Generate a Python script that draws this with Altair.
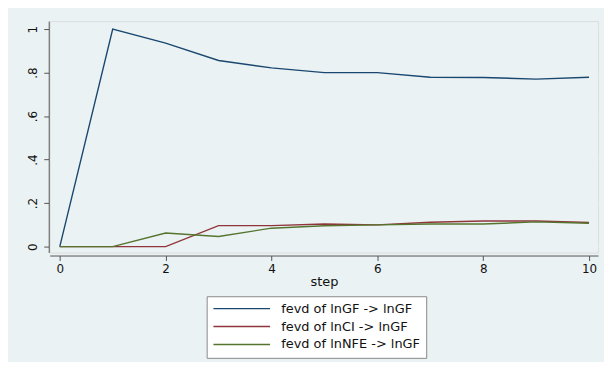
import altair as alt
import pandas as pd

steps = [0, 1, 2, 3, 4, 5, 6, 7, 8, 9, 10]
gf_gf = [0, 1.0, 0.936, 0.856, 0.822, 0.800, 0.800, 0.779, 0.778, 0.770, 0.779]
ci_gf = [0, 0, 0, 0.097, 0.097, 0.104, 0.100, 0.112, 0.118, 0.118, 0.111]
nfe_gf = [0, 0, 0.063, 0.047, 0.085, 0.096, 0.100, 0.104, 0.104, 0.114, 0.108]

series_names = ["fevd of lnGF -> lnGF", "fevd of lnCI -> lnGF", "fevd of lnNFE -> lnGF"]
series_colors = ["#1a476f", "#90353b", "#55752f"]

rows = []
for name, vals in zip(series_names, [gf_gf, ci_gf, nfe_gf]):
    for s, v in zip(steps, vals):
        rows.append({"step": s, "value": v, "series": name})
df = pd.DataFrame(rows)

bg = "#eaf2f3"
font = "DejaVu Sans"

chart = alt.Chart(df).mark_line(strokeWidth=1.4).encode(
    x=alt.X("step:Q",
            scale=alt.Scale(domain=[-0.19, 10.17], nice=False, zero=False),
            axis=alt.Axis(values=[0, 2, 4, 6, 8, 10], title="step", grid=False,
                          offset=3, tickSize=5, labelFontSize=12, titleFontSize=13,
                          titleFontWeight="normal", labelPadding=3, titlePadding=1,
                          labelFont=font, titleFont=font,
                          domainColor="#555555", tickColor="#555555",
                          labelColor="#111111", titleColor="#111111")),
    y=alt.Y("value:Q",
            scale=alt.Scale(domain=[-0.027, 1.037], nice=False, zero=False),
            axis=alt.Axis(values=[0, 0.2, 0.4, 0.6, 0.8, 1.0], title=None, grid=True,
                          gridColor=bg, gridWidth=1.2, offset=1, tickSize=5,
                          labelFontSize=12, labelAngle=270, labelAlign="center",
                          labelBaseline="bottom", labelPadding=4, labelFont=font,
                          labelExpr="datum.value == 0 ? '0' : datum.value == 1 ? '1' : replace(format(datum.value, '.1f'), '0.', '.')",
                          domainColor="#555555", tickColor="#555555",
                          labelColor="#111111")),
    color=alt.Color("series:N",
                    scale=alt.Scale(domain=series_names, range=series_colors),
                    legend=alt.Legend(title=None, orient="none", legendX=158, legendY=277,
                                      direction="vertical", symbolType="M-1,0H9",
                                      symbolSize=130, symbolStrokeWidth=1.4,
                                      labelFontSize=13, labelFont=font, labelOffset=56,
                                      rowPadding=4, padding=6, strokeColor="#888888",
                                      fillColor="white", labelColor="#111111",
                                      labelLimit=300)),
    order=alt.Order("step:Q"),
).properties(
    width=552, height=233,
    background=bg,
    padding={"left": 42, "top": 12, "right": 6, "bottom": 109},
    autosize=alt.AutoSizeParams(type="none"),
).configure_view(
    fill="white", stroke=None
).configure(
    font=font
)

chart.save("out.html", embed_options={"renderer": "svg", "actions": False})
